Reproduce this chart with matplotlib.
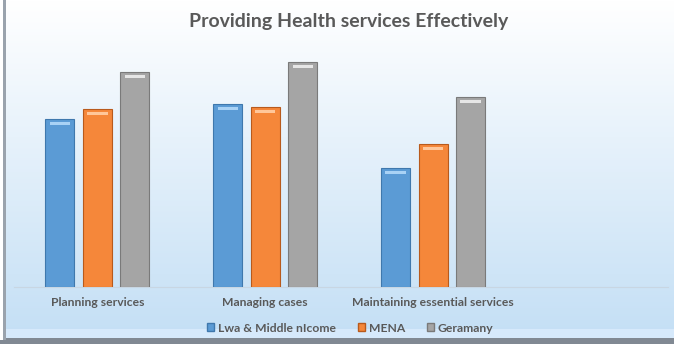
#!/usr/bin/env python3
"""plot.py - Providing Health services Effectively"""

import matplotlib.pyplot as plt
import numpy as np
from matplotlib.patches import Patch

# categories and series (arbitrary 0-100 scale)
categories = ["Planning services", "Managing cases", "Maintaining essential services"]
series_names = ["Lwa & Middle nIcome", "MENA", "Geramany"]
low_middle = [68, 74, 48]
mena = [72, 73, 58]
germany = [87, 91, 77]

colors = ["#5b9bd5", "#f5873a", "#a5a5a5"]
edges = ["#3f78ad", "#b85a1c", "#7a7a7a"]
highlights = ["#a9d2f5", "#ffc79a", "#e6e6e6"]
text_color = "#595959"

plt.rcParams["font.family"] = ["Lato", "DejaVu Sans"]

fig = plt.figure(figsize=(6.74, 3.5), dpi=100)

# background gradient of the chart area
bg = fig.add_axes([0, 0, 1, 1], zorder=-10)
grad = np.linspace(0, 1, 256).reshape(-1, 1)
top = np.array([1.0, 1.0, 1.0])
bottom = np.array([0.76, 0.87, 0.96])
img = top + (bottom - top) * grad[..., None]
bg.imshow(img, aspect="auto", extent=[0, 1, 0, 1], origin="upper")
# lighter strip near bottom and frame shadow
bg.axhspan(0.035, 0.06, color="#d6e9fb", lw=0)
bg.axhspan(0.0, 0.035, color="#ffffff", lw=0)
bg.axhspan(0.018, 0.035, color="#6b7480", lw=0, alpha=0.85)
bg.axvspan(0.0, 0.008, ymin=0.03, color="#ffffff", lw=0)
bg.axvspan(0.004, 0.009, ymin=0.03, color="#9aa3ad", lw=0)
bg.set_xlim(0, 1)
bg.set_ylim(0, 1)
bg.axis("off")

ax = fig.add_axes([13.5 / 674, 1 - 287 / 350, (668 - 13.5) / 674, (287 - 40) / 350])
ax.patch.set_alpha(0)

x = np.arange(len(categories))
width = 29 / 168
step = 37.5 / 168
all_series = [low_middle, mena, germany]

for i, vals in enumerate(all_series):
    pos = x + (i - 1) * step
    ax.bar(pos, vals, width, color=colors[i], edgecolor=edges[i], linewidth=0.8, zorder=3)
    # bevel highlight at the top of each bar
    ax.bar(pos, [1.2] * len(vals), width * 0.7, bottom=np.array(vals) - 2.4,
           color=highlights[i], linewidth=0, zorder=4)

ax.set_xlim(-0.5, 3.4)
ax.set_ylim(0, 100)
ax.set_yticks([])
ax.set_xticks(x)
ax.set_xticklabels(categories, fontsize=8.7, color=text_color, fontweight="bold")
ax.tick_params(axis="x", length=0, pad=7)
for side in ["top", "left", "right"]:
    ax.spines[side].set_visible(False)
ax.spines["bottom"].set_color("#c8d6e3")
ax.spines["bottom"].set_linewidth(0.8)

fig.text(349 / 674, 1 - 21 / 350, "Providing Health services Effectively",
         ha="center", va="center", fontsize=14, fontweight="bold", color=text_color)

handles = [Patch(facecolor=c, edgecolor=e) for c, e in zip(colors, edges)]
fig.legend(handles, series_names, loc="center", bbox_to_anchor=(350 / 674, 1 - 328 / 350),
           ncol=3, frameon=False, handlelength=0.6, handleheight=0.6,
           handletextpad=0.3, columnspacing=1.8, labelcolor=text_color,
           prop={"weight": "bold", "size": 8.7})

fig.savefig("out.png", dpi=100)
